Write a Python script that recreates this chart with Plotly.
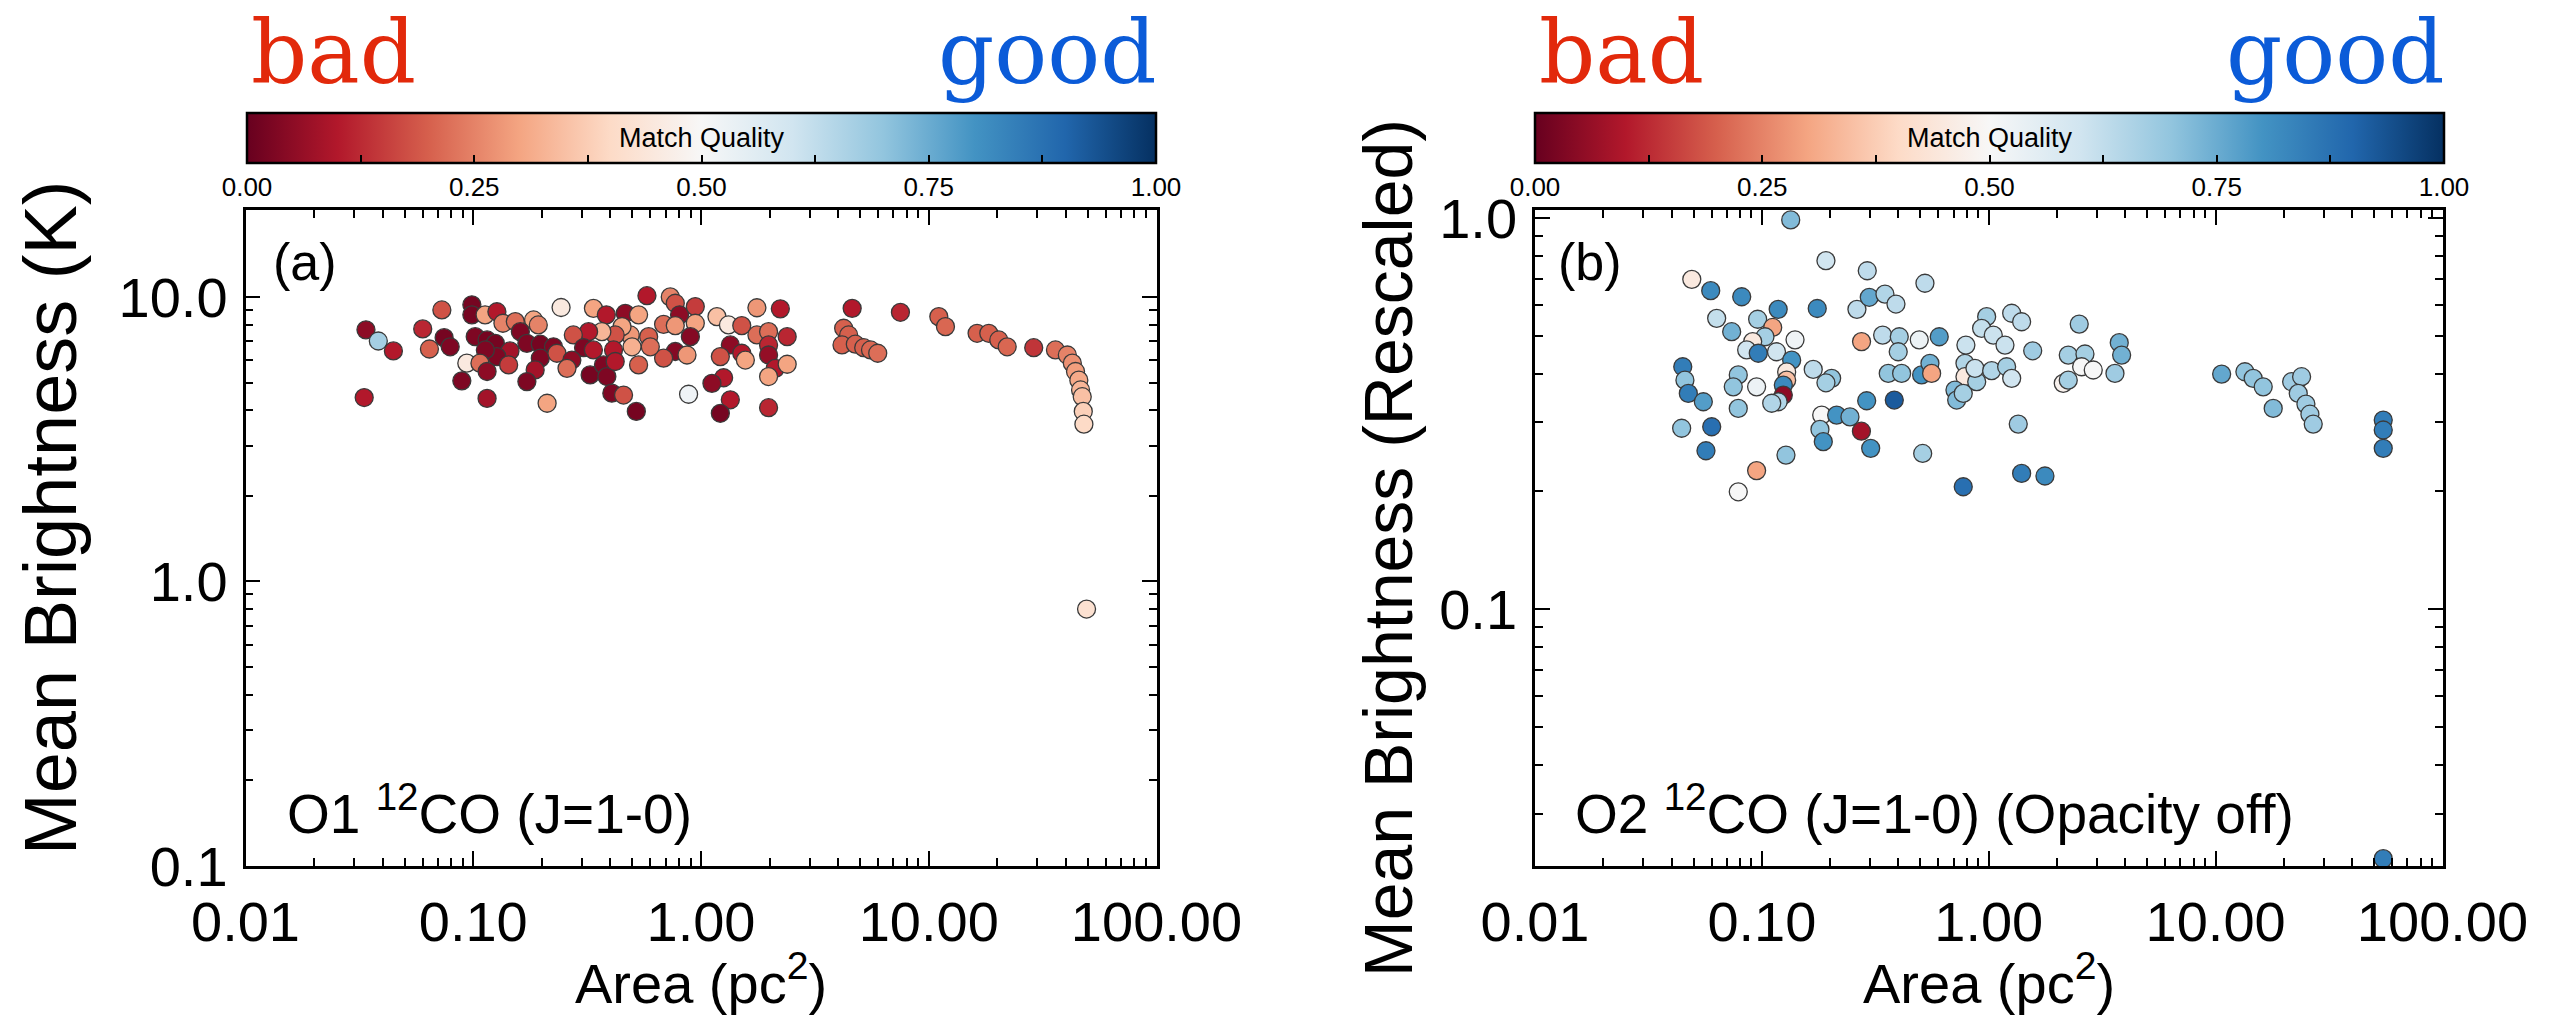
import plotly.graph_objects as go

W, H = 2563, 1019

# ---------------- data ----------------
# Panel (a): O1 12CO (J=1-0) -- area [pc^2], mean brightness [K], match quality [0-1]
area_a = [0.0338, 0.0383, 0.0446, 0.0332, 0.0728, 0.0600, 0.0642, 0.0745, 0.0792, 0.0986,
          0.0986, 0.1127, 0.127, 0.135, 0.153, 0.184, 0.193, 0.161, 0.172, 0.197,
          0.225, 0.102, 0.115, 0.125, 0.145, 0.127, 0.113, 0.0937, 0.107, 0.115,
          0.143, 0.197, 0.187, 0.172, 0.0891, 0.115, 0.211, 0.233,
          0.243, 0.337, 0.384, 0.465, 0.532, 0.579, 0.733, 0.771, 0.805, 0.944,
          0.944, 1.175, 1.32, 1.51, 1.76, 2.23, 1.76, 1.98, 2.39, 1.98,
          1.98, 2.12, 2.39, 1.98, 1.98, 1.345, 1.51, 1.566, 1.216, 1.257,
          1.117, 1.345, 1.216, 0.882, 0.898, 0.771, 0.685, 0.868, 0.685, 0.771,
          0.589, 0.599, 0.532, 0.489, 0.498, 0.450, 0.420, 0.413, 0.367, 0.321,
          0.275, 0.305, 0.337, 0.271, 0.258, 0.326, 0.373, 0.386, 0.420, 0.406,
          0.457, 0.520,
          4.61, 7.51, 4.23, 4.45, 4.16, 4.76, 5.18, 5.55, 5.97, 11.07,
          11.84, 16.3, 18.35, 20.3, 22.1, 28.9, 36.0, 40.6, 42.7, 44.1,
          45.6, 46.4, 47.2, 47.7, 48.0, 49.3]
tb_a = [7.66, 7.00, 6.46, 4.43, 9.00, 7.72, 6.56, 7.19, 6.68, 9.38,
        8.65, 8.65, 8.87, 8.08, 8.19, 8.30, 7.97, 7.55, 6.87, 6.82,
        6.68, 7.25, 7.06, 6.87, 6.46, 6.17, 6.51, 5.85, 5.85, 5.47,
        5.77, 6.09, 5.54, 5.04, 5.07, 4.40, 4.23, 6.34,
        9.18, 9.12, 8.65, 8.76, 8.65, 10.1, 10.0, 9.50, 8.65, 9.25,
        8.08, 8.53, 7.97, 7.93, 9.16, 9.08, 7.35, 7.55, 7.25, 6.78,
        6.25, 5.61, 5.80, 5.25, 4.08, 6.78, 6.34, 6.00, 6.17, 5.20,
        4.97, 4.35, 3.90, 4.55, 7.25, 6.43, 6.09, 6.25, 8.01, 7.93,
        7.25, 6.68, 5.77, 7.35, 6.68, 7.86, 7.35, 6.51, 7.55, 7.55,
        7.35, 6.63, 6.51, 6.00, 5.61, 5.32, 5.77, 5.25, 5.93, 4.59,
        4.52, 3.96,
        9.12, 8.83, 7.76, 7.35, 6.78, 6.82, 6.63, 6.51, 6.34, 8.53,
        7.86, 7.45, 7.45, 7.06, 6.68, 6.63, 6.51, 6.25, 5.85, 5.47,
        5.10, 4.71, 4.46, 3.96, 3.57, 0.80]
qual_a = [0.05, 0.67, 0.10, 0.10, 0.18, 0.12, 0.20, 0.02, 0.03, 0.02,
          0.02, 0.30, 0.10, 0.25, 0.22, 0.30, 0.25, 0.03, 0.03, 0.02,
          0.03, 0.03, 0.02, 0.02, 0.08, 0.03, 0.03, 0.45, 0.22, 0.05,
          0.15, 0.03, 0.08, 0.03, 0.03, 0.08, 0.30, 0.18,
          0.45, 0.30, 0.10, 0.05, 0.30, 0.10, 0.25, 0.18, 0.05, 0.15,
          0.30, 0.35, 0.45, 0.18, 0.28, 0.10, 0.22, 0.22, 0.12, 0.12,
          0.06, 0.10, 0.30, 0.30, 0.12, 0.05, 0.10, 0.30, 0.18, 0.10,
          0.05, 0.10, 0.02, 0.52, 0.04, 0.04, 0.18, 0.28, 0.22, 0.28,
          0.20, 0.22, 0.20, 0.28, 0.32, 0.30, 0.18, 0.10, 0.33, 0.10,
          0.18, 0.03, 0.10, 0.05, 0.22, 0.02, 0.03, 0.03, 0.10, 0.03,
          0.18, 0.02,
          0.10, 0.12, 0.20, 0.20, 0.20, 0.20, 0.20, 0.21, 0.22, 0.20,
          0.21, 0.20, 0.20, 0.20, 0.21, 0.14, 0.22, 0.25, 0.27, 0.29,
          0.31, 0.33, 0.35, 0.38, 0.40, 0.42]

# Panel (b): O2 12CO (J=1-0), opacity off -- area [pc^2], rescaled brightness, match quality
area_b = [0.134, 0.1916, 0.0491, 0.0595, 0.0815, 0.118, 0.1754, 0.0632, 0.0958, 0.0736,
          0.1116, 0.1032, 0.0911, 0.0857, 0.0964, 0.116, 0.140, 0.1353, 0.1286, 0.1286,
          0.1243, 0.1243, 0.118, 0.1105, 0.0448, 0.0458, 0.0474, 0.0552, 0.0787, 0.0748,
          0.0948, 0.0787, 0.0443, 0.0601, 0.0567, 0.0948, 0.0787, 0.1277, 0.1684, 0.203,
          0.1916, 0.1835, 0.2136, 0.2445, 0.1803, 0.1865, 0.2746, 0.2624, 0.275, 0.2897,
          0.2914,
          0.5233, 0.2974, 0.3487, 0.390, 0.3406, 0.4033, 0.494, 0.605, 0.399, 0.3606,
          0.413, 0.506, 0.5506, 0.560, 0.3834, 0.3017, 0.5114, 0.772, 1.396, 1.769,
          1.349, 0.793, 0.7855, 0.7855, 0.7096, 0.722, 0.772, 0.885, 0.8694, 1.03,
          1.199, 1.262, 0.979, 0.930, 1.047, 1.179, 1.262, 1.396, 1.562, 2.505,
          2.241, 2.655, 2.567, 2.888, 2.13, 2.241, 3.76, 3.852, 3.60,
          10.63, 13.46, 14.64, 16.21, 17.94, 21.63, 23.93, 23.13, 25.0, 26.04,
          26.93, 54.8, 54.8, 54.8, 54.8]
tb_b = [0.989, 0.778, 0.697, 0.652, 0.629, 0.584, 0.587, 0.554, 0.551, 0.512,
        0.525, 0.497, 0.483, 0.460, 0.451, 0.455, 0.488, 0.433, 0.404, 0.385,
        0.374, 0.3526, 0.339, 0.336, 0.4166, 0.385, 0.356, 0.339, 0.397, 0.370,
        0.370, 0.326, 0.290, 0.2926, 0.254, 0.226, 0.1995, 0.2476, 0.410, 0.389,
        0.379, 0.3134, 0.3134, 0.310, 0.288, 0.268, 0.285, 0.584, 0.483, 0.341,
        0.733,
        0.681, 0.627, 0.639, 0.6026, 0.502, 0.497, 0.488, 0.497, 0.455, 0.4006,
        0.4006, 0.397, 0.425, 0.4006, 0.3424, 0.2576, 0.250, 0.2055, 0.2223, 0.2189,
        0.2972, 0.4733, 0.425, 0.3928, 0.363, 0.3424, 0.356, 0.3814, 0.4127, 0.407,
        0.4166, 0.389, 0.5594, 0.5222, 0.502, 0.4733, 0.5708, 0.543, 0.4576, 0.5356,
        0.4462, 0.449, 0.4166, 0.4087, 0.3778, 0.385, 0.480, 0.4462, 0.4006,
        0.399, 0.4045, 0.389, 0.370, 0.326, 0.3814, 0.3928, 0.356, 0.3344, 0.315,
        0.2972, 0.3043, 0.287, 0.2576, 0.0230]
qual_b = [0.72, 0.60, 0.45, 0.82, 0.82, 0.82, 0.82, 0.62, 0.67, 0.74,
          0.30, 0.67, 0.45, 0.60, 0.85, 0.60, 0.52, 0.80, 0.45, 0.35,
          0.82, 0.05, 0.65, 0.65, 0.85, 0.70, 0.85, 0.78, 0.70, 0.70,
          0.53, 0.70, 0.70, 0.88, 0.85, 0.30, 0.50, 0.70, 0.63, 0.70,
          0.67, 0.50, 0.80, 0.74, 0.70, 0.80, 0.08, 0.63, 0.30, 0.80,
          0.63,
          0.63, 0.76, 0.65, 0.63, 0.63, 0.67, 0.53, 0.78, 0.67, 0.70,
          0.70, 0.80, 0.74, 0.30, 0.92, 0.80, 0.67, 0.88, 0.85, 0.82,
          0.68, 0.61, 0.65, 0.45, 0.72, 0.72, 0.67, 0.67, 0.61, 0.65,
          0.67, 0.60, 0.67, 0.62, 0.61, 0.61, 0.63, 0.63, 0.68, 0.68,
          0.67, 0.67, 0.50, 0.50, 0.48, 0.67, 0.74, 0.74, 0.68,
          0.76, 0.70, 0.70, 0.70, 0.72, 0.68, 0.68, 0.68, 0.68, 0.68,
          0.68, 0.85, 0.85, 0.85, 0.85]

# axis ticks and labels
x_ticks = [0.01, 0.1, 1, 10, 100]
x_labels = ["0.01", "0.10", "1.00", "10.00", "100.00"]
ya_ticks = [0.1, 1, 10]
ya_labels = ["0.1", "1.0", "10.0"]
yb_ticks = [0.1, 1]
yb_labels = ["0.1", "1.0"]
cb_ticks = [0, 0.125, 0.25, 0.375, 0.5, 0.625, 0.75, 0.875, 1.0]
cb_labels = ["0.00", "", "0.25", "", "0.50", "", "0.75", "", "1.00"]

# diverging red-blue palette (ColorBrewer RdBu, 11 classes)
rdbu = ["#67001f", "#b2182b", "#d6604d", "#f4a582", "#fddbc7", "#f7f7f7",
        "#d1e5f0", "#92c5de", "#4393c3", "#2166ac", "#053061"]
colorscale = [[i / (len(rdbu) - 1), c] for i, c in enumerate(rdbu)]

SANS = "Liberation Sans, Arial, Helvetica, sans-serif"
SERIF = "DejaVu Serif, serif"


def fx(px):
    return px / W


def fy(py):
    return 1 - py / H


def minor_vals(lo_exp, hi_exp, upper=None):
    vals = []
    for e in range(lo_exp, hi_exp):
        for k in range(2, 10):
            v = k * 10.0 ** e
            if upper is None or v < upper:
                vals.append(v)
    return vals


# panel frames and colour bars in pixels
A_L, A_R = 245.5, 1156.5
B_L, B_R = 1535.0, 2442.5
TOP, BOT = 210.0, 866.0
CB_TOP, CB_THICK = 113.0, 50.0
CB_A = (247.0, 1156.0)
CB_B = (1535.0, 2444.0)

fig = go.Figure()

marker_line = dict(color="#3a3a3a", width=1.3)
fig.add_trace(go.Scatter(
    x=area_a, y=tb_a, mode="markers", xaxis="x", yaxis="y",
    marker=dict(size=18, color=qual_a, coloraxis="coloraxis", line=marker_line),
    hoverinfo="x+y"))
fig.add_trace(go.Scatter(
    x=area_b, y=tb_b, mode="markers", xaxis="x2", yaxis="y2",
    marker=dict(size=18, color=qual_b, coloraxis="coloraxis2", line=marker_line),
    hoverinfo="x+y"))

axis_common = dict(
    type="log", showline=True, linecolor="black", linewidth=2.5, mirror="allticks",
    ticks="inside", ticklen=15, tickwidth=2, tickcolor="black",
    tickfont=dict(family=SANS, size=56, color="black"),
    showgrid=False, zeroline=False, tickmode="array", automargin=False,
)


def xaxis(domain, anchor):
    d = dict(axis_common)
    d.update(domain=domain, anchor=anchor, range=[-2, 2],
             tickvals=x_ticks, ticktext=x_labels, ticklabelstandoff=5,
             minor=dict(tickvals=minor_vals(-2, 2), ticks="inside", ticklen=8,
                        tickwidth=1.5, tickcolor="black", showgrid=False))
    return d


def yaxis(anchor, rng, ticks, labels, minors):
    d = dict(axis_common)
    d.update(domain=[fy(BOT), fy(TOP)], anchor=anchor, range=rng,
             tickvals=ticks, ticktext=labels, ticklabelstandoff=4,
             minor=dict(tickvals=minors, ticks="inside", ticklen=8,
                        tickwidth=1.5, tickcolor="black", showgrid=False))
    return d


def colorbar(left, right):
    return dict(
        orientation="h", x=fx(left), xanchor="left", y=fy(CB_TOP), yanchor="top",
        len=(right - left) / W, lenmode="fraction", thickness=CB_THICK, thicknessmode="pixels",
        outlinewidth=2.5, outlinecolor="black", xpad=0, ypad=0,
        tickmode="array", tickvals=cb_ticks, ticktext=cb_labels,
        ticks="inside", ticklen=9, tickwidth=1.5, tickcolor="black",
        tickfont=dict(family=SANS, size=26, color="black"),
        title=dict(text=""))


fig.update_layout(
    width=W, height=H, margin=dict(l=0, r=0, t=0, b=0, pad=0, autoexpand=False),
    paper_bgcolor="white", plot_bgcolor="white", showlegend=False,
    font=dict(family=SANS, color="black"),
    xaxis=xaxis([fx(A_L), fx(A_R)], "y"),
    yaxis=yaxis("x", [-1, 1.3055], ya_ticks, ya_labels, minor_vals(-1, 2, upper=19)),
    xaxis2=xaxis([fx(B_L), fx(B_R)], "y2"),
    yaxis2=yaxis("x2", [-1.657, 0.0205], yb_ticks, yb_labels, minor_vals(-2, 0)),
    coloraxis=dict(colorscale=colorscale, cmin=0, cmax=1, colorbar=colorbar(*CB_A)),
    coloraxis2=dict(colorscale=colorscale, cmin=0, cmax=1, colorbar=colorbar(*CB_B)),
)

# tick marks along the upper edge of each colour bar
shapes = []
for left, right in (CB_A, CB_B):
    for v in cb_ticks[1:-1]:
        xp = fx(left + v * (right - left))
        shapes.append(dict(type="line", xref="paper", yref="paper", x0=xp, x1=xp,
                           y0=fy(CB_TOP), y1=fy(CB_TOP + 9),
                           line=dict(color="black", width=1.5)))

ann = []


def text(x, y, s, size, xanchor="center", yanchor="middle", angle=0, color="black", family=SANS):
    ann.append(dict(x=fx(x), y=fy(y), xref="paper", yref="paper", text=s, showarrow=False,
                    xanchor=xanchor, yanchor=yanchor, textangle=angle,
                    font=dict(family=family, size=size, color=color)))


for (left, right), (cl, cr) in (((A_L, A_R), CB_A), ((B_L, B_R), CB_B)):
    text(cl + 2, 52, "bad", 88, xanchor="left", color="#e2290b", family=SERIF)
    text(cr + 3, 52, "good", 88, xanchor="right", color="#0b5bd8", family=SERIF)
    text((cl + cr) / 2, 138, "Match Quality", 27)
    text((left + right) / 2, 979, "Area (pc<sup>2</sup>)", 56)

text(271, 262, "(a)", 52, xanchor="left")
text(1556, 262, "(b)", 52, xanchor="left")
text(285, 810, "O1 <sup>12</sup>CO (J=1-0)", 55, xanchor="left")
text(1573, 810, "O2 <sup>12</sup>CO (J=1-0) (Opacity off)", 55, xanchor="left")
text(50, 518, "Mean Brightness (K)", 74, angle=-90)
text(1388, 548, "Mean Brightness (Rescaled)", 68, angle=-90)

fig.update_layout(annotations=ann, shapes=shapes)

fig.write_html("out.html")
